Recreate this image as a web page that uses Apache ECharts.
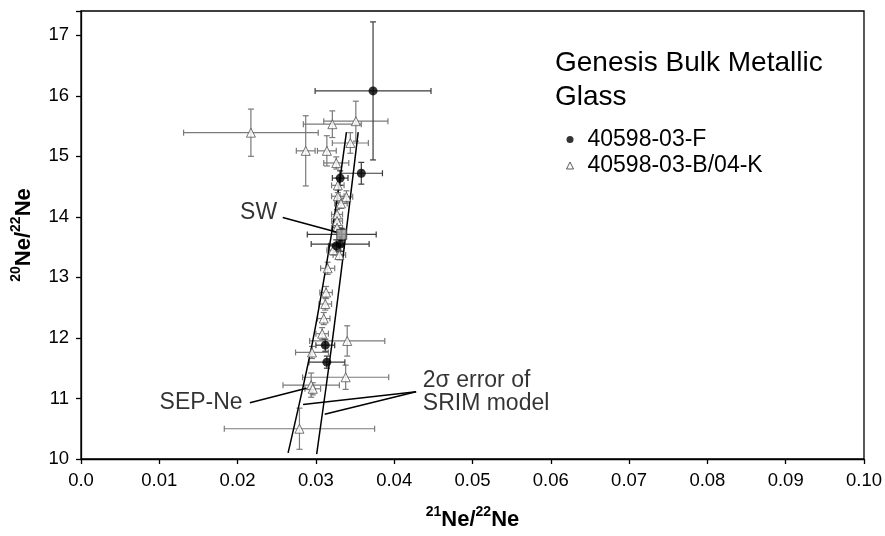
<!DOCTYPE html>
<html><head><meta charset="utf-8">
<script src="https://cdn.jsdelivr.net/npm/echarts/dist/echarts.min.js"></script>
<style>html,body{margin:0;padding:0;background:#fff}#c{width:885px;height:536px}</style>
</head><body><div id="c"></div>
<script>
// ---- data ----
const circleX    = [0.0373, 0.0358, 0.0331, 0.0331, 0.0326, 0.0312, 0.0314];
const circleY    = [16.08, 14.72, 14.64, 13.55, 13.52, 11.88, 11.60];
const circleXErr = [0.0074, 0.0027, 0.0010, 0.0037, 0.0010, 0.0012, 0.0023];
const circleYErr = [1.14, 0.18, 0.12, 0.12, 0.10, 0.10, 0.10];

const triX    = [0.0217, 0.0321, 0.0351, 0.0287, 0.0314, 0.0344, 0.0326, 0.0328, 0.0328, 0.0339, 0.0332, 0.0327, 0.0327, 0.0327, 0.0322, 0.0330, 0.0315, 0.0313, 0.0312, 0.0310, 0.0308, 0.0340, 0.0295, 0.0338, 0.0294, 0.0296, 0.0279];
const triY    = [15.39, 15.53, 15.58, 15.09, 15.09, 15.22, 14.89, 14.52, 14.34, 14.33, 14.22, 14.04, 13.93, 13.82, 13.45, 13.37, 13.15, 12.75, 12.56, 12.32, 12.07, 11.95, 11.76, 11.35, 11.22, 11.16, 10.50];
const triXErr = [0.0086, 0.0037, 0.0041, 0.0012, 0.0012, 0.0023, 0.0016, 0.0008, 0.0008, 0.0008, 0.0008, 0.0007, 0.0007, 0.0007, 0.0008, 0.0008, 0.0009, 0.0008, 0.0008, 0.0008, 0.0008, 0.0048, 0.0021, 0.0055, 0.0036, 0.0010, 0.0096];
const triYErr = [0.39, 0.22, 0.33, 0.58, 0.25, 0.17, 0.10, 0.12, 0.10, 0.10, 0.08, 0.08, 0.08, 0.08, 0.08, 0.08, 0.10, 0.10, 0.10, 0.10, 0.10, 0.25, 0.10, 0.20, 0.20, 0.10, 0.34];

const swX = [0.0333], swY = [13.71], swXErr = [0.0044], swYErr = [0.10];

// SRIM model 2-sigma curves
const modelLowX  = [0.02645, 0.0296, 0.0324, 0.0339];
const modelLowY  = [10.10, 11.95, 14.04, 15.40];
const modelHighX = [0.0301, 0.0321, 0.0341, 0.0354];
const modelHighY = [10.08, 11.95, 14.00, 15.40];

// annotations
const annotText = ['SW', 'SEP-Ne', '2σ error of\nSRIM model'];
const annotX = [0.0253, 0.0209, 0.0434];
const annotY = [14.07, 10.93, 11.11];
const annotPos = ['left', 'left', 'right'];
const pointers = [
  [[0.02577, 13.99], [0.0326, 13.75]],
  [[0.02157, 10.93], [0.02879, 11.17]],
  [[0.0428, 11.11], [0.02836, 10.90]],
  [[0.0428, 11.11], [0.03112, 10.74]]
];

const xTickLabels = ['0.0','0.01','0.02','0.03','0.04','0.05','0.06','0.07','0.08','0.09','0.10'];
const yTickLabels = ['10','11','12','13','14','15','16','17'];

const seriesNames = ['40598-03-F', '40598-03-B/04-K'];
const titleText = 'Genesis Bulk Metallic\nGlass';

// ---- chart ----
const FONT = '"Liberation Sans", Arial, sans-serif';
const chart = echarts.init(document.getElementById('c'));

function pack(xs, ys, ex, ey){ return xs.map((x,i)=>[x, ys[i], ex[i], ey[i]]); }

function errRender(color){
  return function(params, api){
    const x = api.value(0), y = api.value(1), ex = api.value(2), ey = api.value(3);
    const c = api.coord([x, y]);
    const l = api.coord([x - ex, y]), r = api.coord([x + ex, y]);
    const t = api.coord([x, y + ey]), b = api.coord([x, y - ey]);
    const cap = 3;
    const style = {stroke: color, lineWidth: 1.2};
    const L = (x1,y1,x2,y2) => ({type:'line', shape:{x1,y1,x2,y2}, style});
    return {type:'group', children:[
      L(l[0], c[1], r[0], c[1]),
      L(l[0], c[1]-cap, l[0], c[1]+cap),
      L(r[0], c[1]-cap, r[0], c[1]+cap),
      L(c[0], t[1], c[0], b[1]),
      L(c[0]-cap, t[1], c[0]+cap, t[1]),
      L(c[0]-cap, b[1], c[0]+cap, b[1])
    ]};
  };
}

const series = [
  {type:'custom', name:'errTri', renderItem: errRender('#7a7a7a'), data: pack(triX, triY, triXErr, triYErr), z: 2, silent:true},
  {type:'custom', name:'errCirc', renderItem: errRender('#3a3a3a'), data: pack(circleX, circleY, circleXErr, circleYErr), z: 2, silent:true},
  {type:'custom', name:'errSW', renderItem: errRender('#3a3a3a'), data: pack(swX, swY, swXErr, swYErr), z: 2, silent:true},
  {type:'line', name:'modelLow', data: modelLowX.map((x,i)=>[x, modelLowY[i]]), smooth:0.3, symbol:'none',
    lineStyle:{color:'#000', width:1.5}, z:3, silent:true},
  {type:'line', name:'modelHigh', data: modelHighX.map((x,i)=>[x, modelHighY[i]]), smooth:0.3, symbol:'none',
    lineStyle:{color:'#000', width:1.5}, z:3, silent:true},
  {type:'scatter', name: seriesNames[1], data: triX.map((x,i)=>[x, triY[i]]), symbol:'triangle', symbolSize:9,
    itemStyle:{color:'#fff', borderColor:'#555', borderWidth:1}, z:4},
  {type:'scatter', name: seriesNames[0], data: circleX.map((x,i)=>[x, circleY[i]]), symbol:'circle', symbolSize:9,
    itemStyle:{color:'#000'}, z:5},
  {type:'scatter', name:'SW', data: swX.map((x,i)=>[x, swY[i]]), symbol:'rect', symbolSize:10,
    itemStyle:{color:'#9a9a9a', borderColor:'#333', borderWidth:1}, z:5},
  {type:'scatter', name:'annot', symbolSize:0, silent:true, z:6,
    data: annotText.map((t,i)=>({value:[annotX[i], annotY[i]], name:t,
      label:{show:true, position: annotPos[i], distance:2, formatter: t, fontSize:23, lineHeight:23,
        fontFamily: FONT, color:'#000', align: annotPos[i]==='left' ? 'right':'left'}}))}
];
pointers.forEach((p,k)=>series.push({type:'line', name:'ptr'+k, data:p, symbol:'none', silent:true,
  lineStyle:{color:'#000', width:1.5}, z:6}));

chart.setOption({
  animation:false,
  backgroundColor:'#fff',
  textStyle:{fontFamily: FONT},
  title:{text: titleText, left:550, top:41, textStyle:{fontSize:28, lineHeight:34, fontWeight:'normal', color:'#000', fontFamily:FONT}},
  legend:{orient:'vertical', left:561, top:123, itemWidth:7, itemHeight:7, itemGap:3,
    data:[{name:seriesNames[0], icon:'circle', itemStyle:{color:'#000'}},
          {name:seriesNames[1], icon:'triangle', itemStyle:{color:'#fff', borderColor:'#333', borderWidth:1}}],
    textStyle:{fontSize:23, lineHeight:23, color:'#000', fontFamily:FONT, padding:[0,0,0,9]}},
  grid:{left:81, right:19, top:11, bottom:65, show:true, borderColor:'#000', borderWidth:1.3, containLabel:false},
  xAxis:{type:'value', min:0, max:0.1, interval:0.01,
    name:'{sup|21}{b|Ne/}{sup|22}{b|Ne}', nameLocation:'middle', nameGap:46,
    nameTextStyle:{rich:{
      b:{fontSize:22, fontWeight:'bold', fontFamily:FONT, color:'#000', lineHeight:26, verticalAlign:'bottom'},
      sup:{fontSize:14, fontWeight:'bold', fontFamily:FONT, color:'#000', lineHeight:26, verticalAlign:'top'}}},
    axisLine:{show:true, lineStyle:{color:'#000', width:1.3}},
    axisTick:{show:true, inside:false, length:5, lineStyle:{color:'#000', width:1.3}},
    axisLabel:{fontSize:18.5, color:'#000', margin:12, fontFamily:FONT,
      formatter:(v)=>{const i=Math.round(v/0.01); return (Math.abs(v-i*0.01)<1e-9 && i>=0 && i<xTickLabels.length)? xTickLabels[i]:'';}},
    splitLine:{show:false}},
  yAxis:{type:'value', min:10, max:17.4, interval:1,
    name:'{sup|20}{b|Ne/}{sup|22}{b|Ne}', nameLocation:'middle', nameGap:46, nameRotate:90,
    nameTextStyle:{rich:{
      b:{fontSize:22, fontWeight:'bold', fontFamily:FONT, color:'#000', lineHeight:26, verticalAlign:'bottom'},
      sup:{fontSize:14, fontWeight:'bold', fontFamily:FONT, color:'#000', lineHeight:26, verticalAlign:'top'}}},
    axisLine:{show:true, lineStyle:{color:'#000', width:1.3}},
    axisTick:{show:true, inside:false, length:5, lineStyle:{color:'#000', width:1.3}},
    axisLabel:{fontSize:18.5, color:'#000', margin:12, fontFamily:FONT,
      formatter:(v)=>{const i=Math.round(v-10); return (Math.abs(v-10-i)<1e-9 && i>=0 && i<yTickLabels.length)? yTickLabels[i]:'';}},
    splitLine:{show:false}},
  series
});
</script></body></html>
